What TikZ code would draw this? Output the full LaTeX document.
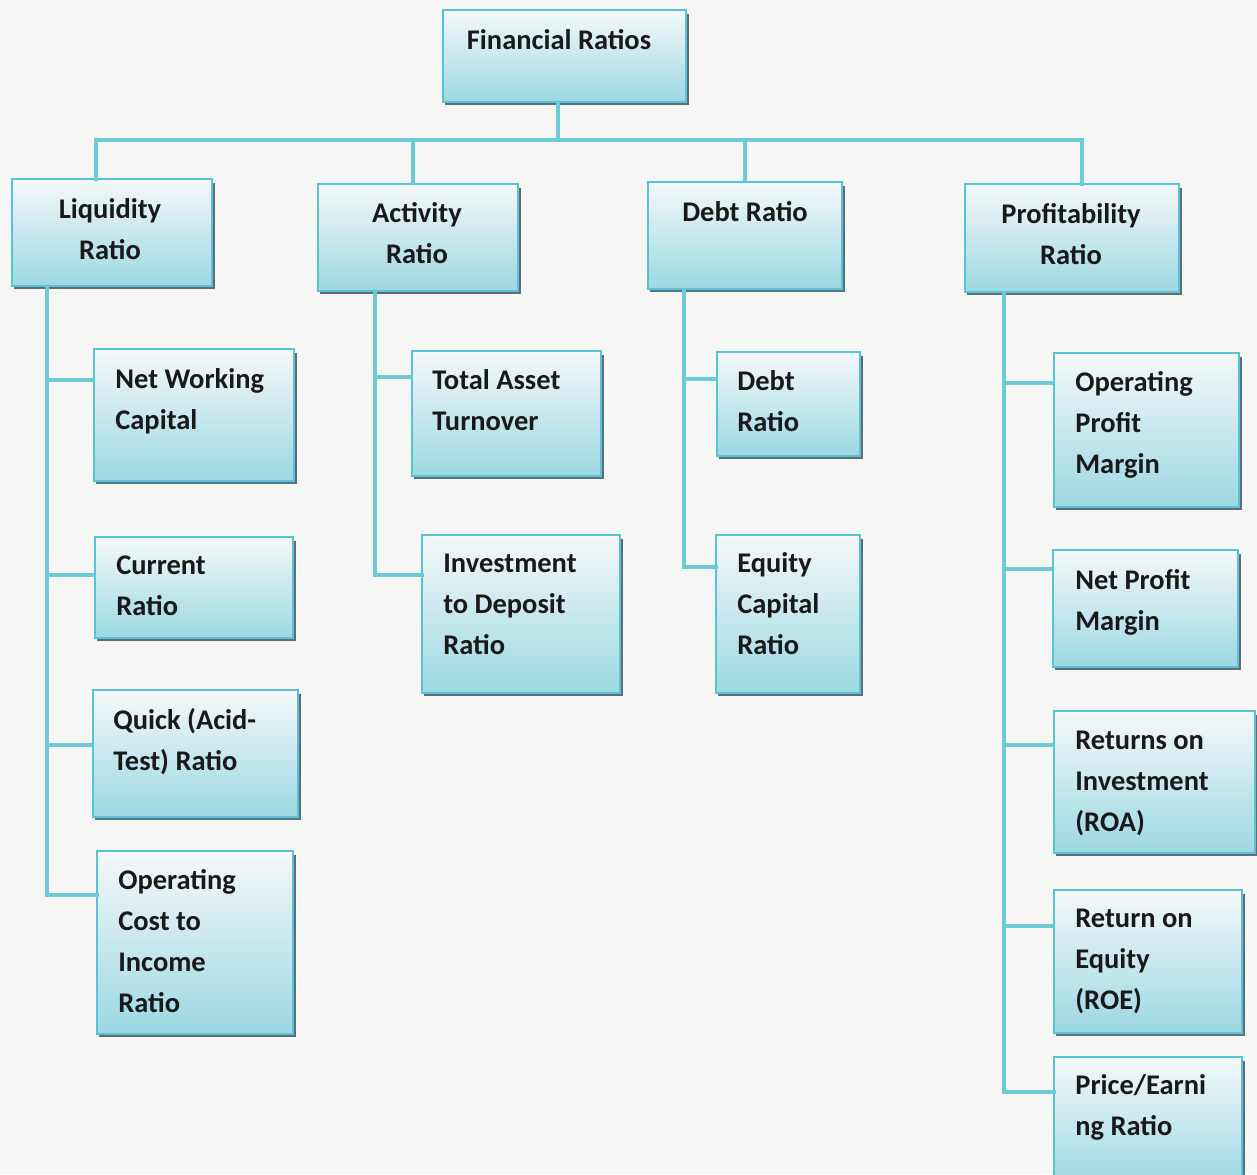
\documentclass[tikz,border=0pt]{standalone}
\usepackage{fontspec}
\setmainfont{Carlito}
\usetikzlibrary{fit}
\definecolor{bgc}{HTML}{F6F6F4}
\definecolor{connc}{HTML}{6CCBD9}
\definecolor{boxborder}{HTML}{55C4D6}
\definecolor{boxtop}{HTML}{F5F8F9}
\definecolor{boxbot}{HTML}{9CD8E3}
\definecolor{shadowc}{HTML}{2E3E4E}
\newcommand\mybox[5]{%
  \node[box, fit={(#2,#3) (#4,#5)}] (#1) {};
  \draw[shadowline] ([xshift=1pt,yshift=-1.2pt]#1.south west) -- ([xshift=1.2pt,yshift=-1.2pt]#1.south east) -- ([xshift=1.2pt,yshift=-2pt]#1.north east);
}
\begin{document}
\begin{tikzpicture}[x=0.02cm,y=-0.02cm,
  box/.style={draw=boxborder, line width=1pt, top color=boxtop, bottom color=boxbot, inner sep=0pt, outer sep=0pt},
  shadowline/.style={draw=shadowc, line width=1.1pt, opacity=0.75},
  conn/.style={draw=connc, line width=2.3pt},
  txt/.style={font=\fontsize{16.2}{23.2}\selectfont\bfseries, text=black!90, inner sep=0pt, anchor=base west, align=left},
  ctxt/.style={font=\fontsize{16.2}{23.2}\selectfont\bfseries, text=black!90, inner sep=0pt, anchor=base, align=center}]
\fill[bgc] (0,0) rectangle (1257,1174);
\useasboundingbox (0,0) rectangle (1257,1174);
\clip (0,0) rectangle (1257,1174);

% connector coordinates
\coordinate (bus) at (558,140);
\coordinate (busL) at (96,140);
\coordinate (busA) at (413,140);
\coordinate (busD) at (745,140);
\coordinate (busR) at (1082,140);

\coordinate (lb1) at (47,380);
\coordinate (lb2) at (47,575);
\coordinate (lb3) at (47,745);
\coordinate (lb4) at (47,895);
\coordinate (ab1) at (375,377);
\coordinate (ab2) at (375,575);
\coordinate (db1) at (684,379);
\coordinate (db2) at (684,567);
\coordinate (pb1) at (1004,383);
\coordinate (pb2) at (1004,569);
\coordinate (pb3) at (1004,745);
\coordinate (pb4) at (1004,926);
\coordinate (pb5) at (1004,1092);

% boxes
\mybox{fin}{443}{10}{686}{102}
\mybox{liq}{12}{179}{212}{286}
\mybox{act}{318}{184}{518}{291}
\mybox{deb}{648}{182}{842}{289}
\mybox{pro}{965}{184}{1179}{292}
\mybox{l1}{94}{349}{294}{481}
\mybox{l2}{95}{537}{293}{638}
\mybox{l3}{93}{690}{298}{817}
\mybox{l4}{97}{851}{293}{1034}
\mybox{a1}{412}{351}{601}{476}
\mybox{a2}{422}{535}{620}{693}
\mybox{d1}{717}{352}{860}{456}
\mybox{d2}{716}{535}{860}{693}
\mybox{p1}{1054}{353}{1239}{507}
\mybox{p2}{1053}{550}{1238}{667}
\mybox{p3}{1054}{711}{1255}{853}
\mybox{p4}{1054}{890}{1242}{1033}
\mybox{p5}{1054}{1057}{1242}{1185}

% connectors
\draw[conn] (fin.south -| bus) -- (bus);
\draw[conn, line cap=rect] (busL |- liq.north) -- (busL) -- (busR) -- (busR |- pro.north);
\draw[conn] (busA) -- (busA |- act.north);
\draw[conn] (busD) -- (busD |- deb.north);

\draw[conn] (liq.south -| lb1) -- (lb1) -- (lb4);
\draw[conn] (lb1) -- (lb1 -| l1.west);
\draw[conn] (lb2) -- (lb2 -| l2.west);
\draw[conn] (lb3) -- (lb3 -| l3.west);
\draw[conn, line cap=rect] (lb4) -- (lb4 -| l4.west);

\draw[conn] (act.south -| ab1) -- (ab2);
\draw[conn] (ab1) -- (ab1 -| a1.west);
\draw[conn, line cap=rect] (ab2) -- (ab2 -| a2.west);

\draw[conn] (deb.south -| db1) -- (db2);
\draw[conn] (db1) -- (db1 -| d1.west);
\draw[conn, line cap=rect] (db2) -- (db2 -| d2.west);

\draw[conn] (pro.south -| pb1) -- (pb5);
\draw[conn] (pb1) -- (pb1 -| p1.west);
\draw[conn] (pb2) -- (pb2 -| p2.west);
\draw[conn] (pb3) -- (pb3 -| p3.west);
\draw[conn] (pb4) -- (pb4 -| p4.west);
\draw[conn, line cap=rect] (pb5) -- (pb5 -| p5.west);

% texts (anchored at the baseline of the last line)
\node[ctxt] (tfin) at (559,49) {Financial Ratios};
\node[ctxt] (tliq) at (110,259) {Liquidity\\Ratio};
\node[ctxt] (tact) at (417,263) {Activity\\Ratio};
\node[ctxt] (tdeb) at (745,221) {Debt Ratio};
\node[ctxt] (tpro) at (1071,264) {Profitability\\Ratio};
\node[txt] (tl1) at (115,429) {Net Working\\Capital};
\node[txt] (tl2) at (116,615) {Current\\Ratio};
\node[txt] (tl3) at (113,770) {Quick (Acid-\\Test) Ratio};
\node[txt] (tl4) at (118,1012) {Operating\\Cost to\\Income\\Ratio};
\node[txt] (ta1) at (432,430) {Total Asset\\Turnover};
\node[txt] (ta2) at (443,654) {Investment\\to Deposit\\Ratio};
\node[txt] (td1) at (737,431) {Debt\\Ratio};
\node[txt] (td2) at (737,654) {Equity\\Capital\\Ratio};
\node[txt] (tp1) at (1075,473) {Operating\\Profit\\Margin};
\node[txt] (tp2) at (1075,630) {Net Profit\\Margin};
\node[txt] (tp3) at (1075,831) {Returns on\\Investment\\(ROA)};
\node[txt] (tp4) at (1075,1009) {Return on\\Equity\\(ROE)};
\node[txt] (tp5) at (1075,1135) {Price/Earni\\ng Ratio};
\end{tikzpicture}
\end{document}
